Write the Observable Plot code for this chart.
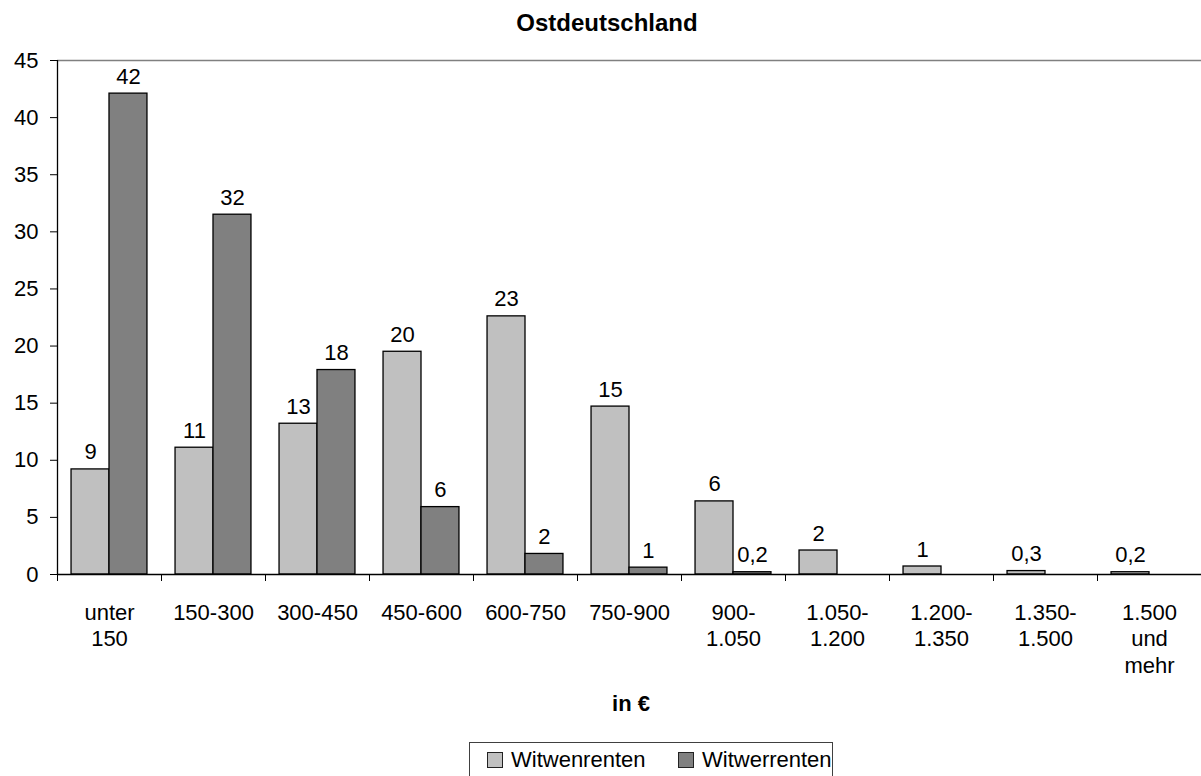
<!DOCTYPE html>
<html>
<head>
<meta charset="utf-8">
<script src="https://cdn.jsdelivr.net/npm/d3@7"></script>
<script src="https://cdn.jsdelivr.net/npm/@observablehq/plot@0.6"></script>
<style>
  html, body { margin: 0; padding: 0; background: #fff; }
  body { width: 1201px; height: 776px; position: relative; overflow: hidden; font-family: "Liberation Sans", Arial, sans-serif; color: #000; }
  #chart { position: absolute; left: 0; top: 0; z-index: 0; }
  #title { position: absolute; left: 0; width: 1214px; top: 11px; text-align: center; font-weight: bold; font-size: 24px; line-height: 24px; z-index: 2; }
  #xlabel { position: absolute; left: 57px; width: 1148px; top: 693px; text-align: center; font-weight: bold; font-size: 22px; line-height: 22px; z-index: 2; }
  #legend { position: absolute; left: 469px; top: 742px; width: 362px; height: 45px; border: 1px solid #404040; font-size: 22px; line-height: 22px; z-index: 2; background: #fff; }
  .item { position: absolute; top: 6px; display: flex; align-items: center; }
  .sw { width: 14px; height: 14px; border: 1px solid #222; margin-right: 8px; }
</style>
</head>
<body>
<div id="chart"></div>
<div id="title">Ostdeutschland</div>
<div id="xlabel">in €</div>
<div id="legend"></div>
<script>
const categories = ["unter\n150", "150-300", "300-450", "450-600", "600-750", "750-900", "900-\n1.050", "1.050-\n1.200", "1.200-\n1.350", "1.350-\n1.500", "1.500\nund\nmehr"];
const seriesNames = ["Witwenrenten", "Witwerrenten"];
const seriesColors = ["#c0c0c0", "#808080"];
const witwenValues = [9.2, 11.1, 13.2, 19.5, 22.6, 14.7, 6.4, 2.1, 0.7, 0.3, 0.2];
const witwerValues = [42.1, 31.5, 17.9, 5.9, 1.8, 0.6, 0.2, null, null, null, null];
const witwenLabels = ["9", "11", "13", "20", "23", "15", "6", "2", "1", "0,3", "0,2"];
const witwerLabels = ["42", "32", "18", "6", "2", "1", "0,2", null, null, null, null];
const yTicks = [0, 5, 10, 15, 20, 25, 30, 35, 40, 45];

const rows = [];
categories.forEach((c, i) => {
  rows.push({i, cat: c, k: 0, series: seriesNames[0], value: witwenValues[i], label: witwenLabels[i]});
  if (witwerValues[i] != null) rows.push({i, cat: c, k: 1, series: seriesNames[1], value: witwerValues[i], label: witwerLabels[i]});
});

const pad = 0.135, bw = 0.365;
const chart = Plot.plot({
  width: 1201,
  height: 700,
  marginLeft: 57,
  marginRight: 0,
  marginTop: 60,
  marginBottom: 126,
  style: {fontFamily: "Liberation Sans, Arial, sans-serif", fontSize: "22px", color: "#000", background: "transparent"},
  x: {type: "linear", domain: [0, categories.length]},
  y: {domain: [0, 45]},
  color: {domain: seriesNames, range: seriesColors},
  marks: [
    Plot.ruleY([45], {stroke: "#808080", strokeWidth: 1.6}),
    Plot.rectY(rows, {
      x1: d => d.i + pad + d.k * bw,
      x2: d => d.i + pad + (d.k + 1) * bw,
      y: "value",
      fill: "series",
      stroke: "#000",
      strokeWidth: 1.3
    }),
    Plot.text(rows, {
      x: d => d.i + pad + (d.k + 0.5) * bw,
      y: "value",
      text: "label",
      lineAnchor: "bottom",
      dy: -10,
      fontSize: 22,
      fill: "#000"
    }),
    Plot.ruleX([0], {y1: 0, y2: 45, stroke: "#000", strokeWidth: 1.3}),
    Plot.ruleY([0], {stroke: "#000", strokeWidth: 1.3}),
    Plot.axisY({ticks: yTicks, tickSize: 7, tickPadding: 12, fontSize: 22, label: null, stroke: "#000"}),
    Plot.axisX({ticks: d3.range(0, categories.length + 1), tickSize: 7, tickFormat: () => "", label: null, stroke: "#000"}),
    Plot.axisX({
      ticks: d3.range(0, categories.length).map(i => i + 0.5),
      tickSize: 0,
      tickPadding: 26,
      tickFormat: v => categories[Math.floor(v)],
      lineHeight: 1.22,
      fontSize: 22,
      label: null
    })
  ]
});
document.getElementById("chart").appendChild(chart);

const legend = document.getElementById("legend");
const lx = [17, 208];
seriesNames.forEach((s, j) => {
  const it = document.createElement("div");
  it.className = "item";
  it.style.left = lx[j] + "px";
  const sw = document.createElement("div");
  sw.className = "sw";
  sw.style.background = seriesColors[j];
  const t = document.createElement("span");
  t.textContent = s;
  it.appendChild(sw); it.appendChild(t);
  legend.appendChild(it);
});
</script>
</body>
</html>
